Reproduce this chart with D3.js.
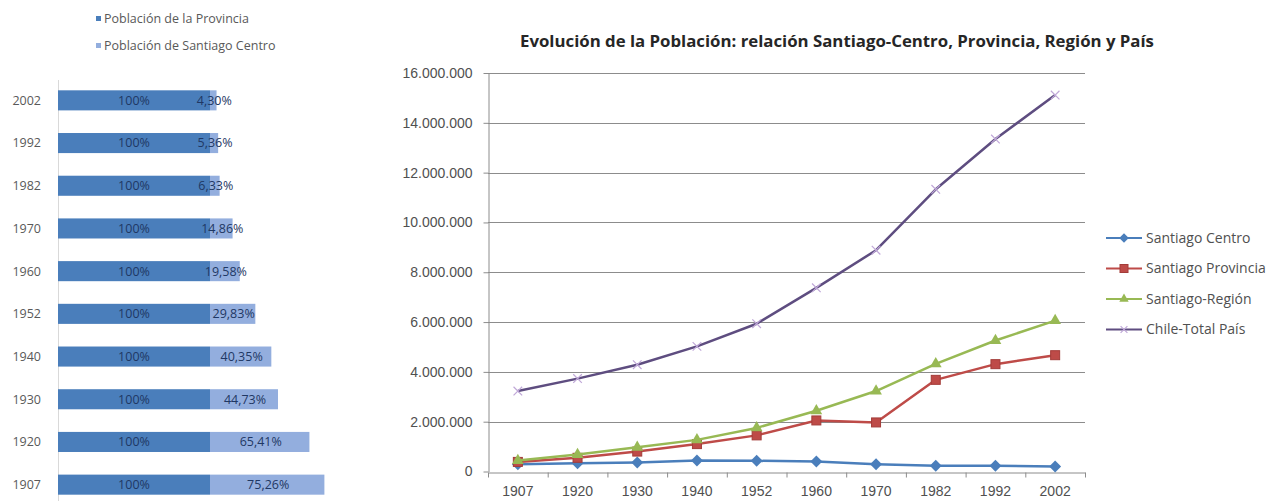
<!DOCTYPE html>
<html>
<head>
<meta charset="utf-8">
<script src="https://cdn.jsdelivr.net/npm/d3@7"></script>
<style>
  body { margin: 0; background: #fff; }
  svg { display: block; font-family: "Open Sans", sans-serif; }
</style>
</head>
<body>
<svg id="chart" width="1275" height="501"></svg>
<script>
// Data
const barYears = ['2002', '1992', '1982', '1970', '1960', '1952', '1940', '1930', '1920', '1907'];
const provinciaPct = [100, 100, 100, 100, 100, 100, 100, 100, 100, 100];
const centroPct = [4.30, 5.36, 6.33, 14.86, 19.58, 29.83, 40.35, 44.73, 65.41, 75.26];

const years = ['1907', '1920', '1930', '1940', '1952', '1960', '1970', '1982', '1992', '2002'];
const santiagoCentro = [290000, 330000, 360000, 440000, 430000, 400000, 290000, 232000, 231000, 201000];
const santiagoProvincia = [385000, 550000, 800000, 1100000, 1450000, 2050000, 1970000, 3680000, 4310000, 4670000];
const santiagoRegion = [440000, 680000, 970000, 1270000, 1750000, 2440000, 3230000, 4320000, 5260000, 6060000];
const chileTotal = [3231000, 3730000, 4287000, 5024000, 5933000, 7374000, 8885000, 11330000, 13348000, 15116000];
const yTicks = [0, 2000000, 4000000, 6000000, 8000000, 10000000, 12000000, 14000000, 16000000];

const svg = d3.select('#chart');
const locale = d3.formatLocale({ decimal: ',', thousands: '.', grouping: [3], currency: ['', ''] });
const fmtInt = locale.format(',d');
const fmtPct = locale.format('.2f');

// ---------- Left: stacked bars ----------
const darkBlue = '#4a7ebb';
const lightBlue = '#93aede';

const bx = d3.scaleLinear().domain([0, 100]).range([58, 210]);
const by = d3.scaleBand()
  .domain(barYears)
  .range([79, 506])
  .paddingInner(0.53)
  .paddingOuter(0.265);

const left = svg.append('g');

left.append('line')
  .attr('x1', 58.5).attr('x2', 58.5)
  .attr('y1', 80).attr('y2', 501)
  .attr('stroke', '#d9d9d9');

const rows = left.selectAll('g.row')
  .data(barYears.map((y, i) => ({ year: y, prov: provinciaPct[i], centro: centroPct[i] })))
  .join('g')
  .attr('class', 'row');

rows.append('rect')
  .attr('x', bx(0))
  .attr('y', (d) => by(d.year))
  .attr('width', (d) => bx(d.prov) - bx(0))
  .attr('height', by.bandwidth())
  .attr('fill', darkBlue);

rows.append('rect')
  .attr('x', (d) => bx(d.prov))
  .attr('y', (d) => by(d.year))
  .attr('width', (d) => bx(d.prov + d.centro) - bx(d.prov))
  .attr('height', by.bandwidth())
  .attr('fill', lightBlue);

rows.append('text')
  .attr('x', (d) => (bx(0) + bx(d.prov)) / 2)
  .attr('y', (d) => by(d.year) + by.bandwidth() / 2)
  .attr('dy', '0.35em')
  .attr('text-anchor', 'middle')
  .attr('font-size', 12.5)
  .attr('fill', '#1f3864')
  .text((d) => d.prov + '%');

rows.append('text')
  .attr('x', (d) => (bx(d.prov) + bx(d.prov + d.centro)) / 2 + 1)
  .attr('y', (d) => by(d.year) + by.bandwidth() / 2)
  .attr('dy', '0.35em')
  .attr('text-anchor', 'middle')
  .attr('font-size', 12.5)
  .attr('fill', '#1f3864')
  .text((d) => fmtPct(d.centro) + '%');

rows.append('text')
  .attr('x', 41)
  .attr('y', (d) => by(d.year) + by.bandwidth() / 2)
  .attr('dy', '0.35em')
  .attr('text-anchor', 'end')
  .attr('font-size', 12.5)
  .attr('fill', '#595959')
  .text((d) => d.year);

// left legend
const leftLegend = [
  { name: 'Población de la Provincia', color: darkBlue },
  { name: 'Población de Santiago Centro', color: lightBlue }
];
const ll = left.selectAll('g.ll')
  .data(leftLegend)
  .join('g')
  .attr('transform', (d, i) => `translate(96,${19 + i * 27})`);
ll.append('rect').attr('x', 0).attr('y', -3).attr('width', 5).attr('height', 5).attr('fill', (d) => d.color);
ll.append('text')
  .attr('x', 8).attr('dy', '0.35em')
  .attr('font-size', 12.5)
  .attr('fill', '#595959')
  .text((d) => d.name);

// ---------- Right: line chart ----------
const x = d3.scaleBand().domain(years).range([488, 1085]);
const y = d3.scaleLinear().domain([0, 16000000]).range([471.5, 73]);

const right = svg.append('g');

right.append('text')
  .attr('x', 837)
  .attr('y', 47)
  .attr('text-anchor', 'middle')
  .attr('font-size', 16.8)
  .attr('font-weight', 'bold')
  .attr('fill', '#262626')
  .text('Evolución de la Población: relación Santiago-Centro, Provincia, Región y País');

// gridlines
right.append('g')
  .selectAll('line')
  .data(yTicks.slice(1))
  .join('line')
  .attr('x1', 488).attr('x2', 1085)
  .attr('y1', (d) => Math.round(y(d)) + 0.5)
  .attr('y2', (d) => Math.round(y(d)) + 0.5)
  .attr('stroke', '#8c8c8c');

// y axis
const yAxis = right.append('g')
  .attr('transform', 'translate(488.5,0)')
  .call(d3.axisLeft(y).tickValues(yTicks).tickFormat(fmtInt).tickSize(5).tickSizeOuter(0));
yAxis.select('.domain').attr('stroke', '#8c8c8c');
yAxis.selectAll('.tick line').attr('stroke', '#8c8c8c');
yAxis.selectAll('text').attr('font-size', 14).attr('fill', '#505050').attr('x', -16);

// x axis
const xAxis = right.append('g')
  .attr('transform', `translate(0,${Math.round(y(0)) + 0.5})`)
  .call(d3.axisBottom(x).tickSize(0).tickSizeOuter(0));
xAxis.select('.domain').attr('stroke', '#8c8c8c');
xAxis.selectAll('text').attr('font-size', 14).attr('fill', '#505050').attr('dy', '1.45em');
xAxis.append('g')
  .selectAll('line')
  .data(years.concat(['end']))
  .join('line')
  .attr('x1', (d, i) => 488 + i * x.step() + 0.5)
  .attr('x2', (d, i) => 488 + i * x.step() + 0.5)
  .attr('y1', 0).attr('y2', 5)
  .attr('stroke', '#8c8c8c');

const series = [
  { name: 'Santiago Centro', values: santiagoCentro, color: '#4a7ebb', marker: 'diamond' },
  { name: 'Santiago Provincia', values: santiagoProvincia, color: '#be4b48', marker: 'square' },
  { name: 'Santiago-Región', values: santiagoRegion, color: '#98b954', marker: 'triangle' },
  { name: 'Chile-Total País', values: chileTotal, color: '#5e4d80', marker: 'x' }
];

const cx = (i) => x(years[i]) + x.bandwidth() / 2;
const line = d3.line()
  .x((d, i) => cx(i))
  .y((d) => y(d));

const drawMarker = (g, type, color, size) => {
  if (type === 'diamond') {
    g.append('path').attr('d', d3.symbol(d3.symbolDiamond2, size * size * 0.9)()).attr('fill', color);
  } else if (type === 'square') {
    g.append('rect').attr('x', -size / 2).attr('y', -size / 2).attr('width', size).attr('height', size)
      .attr('fill', color).attr('stroke', '#a33c39').attr('stroke-width', 1);
  } else if (type === 'triangle') {
    g.append('path').attr('d', d3.symbol(d3.symbolTriangle, size * size * 0.6)()).attr('fill', color);
  } else {
    g.append('path').attr('d', d3.symbol(d3.symbolX, size * size * 0.5)()).attr('stroke', '#c0a8d8').attr('stroke-width', 1.2).attr('fill', 'none');
  }
};

const lines = right.append('g');
series.forEach((s) => {
  lines.append('path')
    .attr('d', line(s.values))
    .attr('fill', 'none')
    .attr('stroke', s.color)
    .attr('stroke-width', 2.5)
    .attr('stroke-linejoin', 'round');
  lines.selectAll(null)
    .data(s.values)
    .join('g')
    .attr('transform', (d, i) => `translate(${cx(i)},${y(d)})`)
    .each(function () {
      drawMarker(d3.select(this), s.marker, s.color, s.marker === 'square' ? 9 : 10);
    });
});

// right legend
const legend = right.selectAll('g.leg')
  .data(series)
  .join('g')
  .attr('transform', (d, i) => `translate(1106,${238 + i * 30.5})`);
legend.append('line')
  .attr('x1', 0).attr('x2', 36)
  .attr('stroke', (d) => d.color)
  .attr('stroke-width', 2);
legend.append('g')
  .attr('transform', 'translate(18,0)')
  .each(function (d) {
    drawMarker(d3.select(this), d.marker, d.color, 8);
  });
legend.append('text')
  .attr('x', 40)
  .attr('dy', '0.35em')
  .attr('font-size', 14)
  .attr('fill', '#505050')
  .text((d) => d.name);
</script>
</body>
</html>
